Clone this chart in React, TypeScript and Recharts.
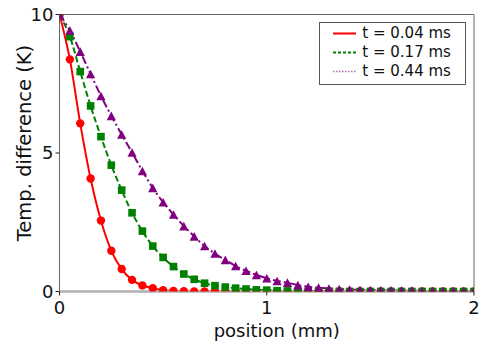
import React from 'react';
import { ComposedChart, Line, XAxis, YAxis, Legend } from 'recharts';

// position along the sample (mm), one marker every 0.05 mm
const positions = [
  0, 0.05, 0.1, 0.15, 0.2, 0.25, 0.3, 0.35, 0.4, 0.45, 0.5, 0.55, 0.6, 0.65, 0.7, 0.75, 0.8, 0.85, 0.9, 0.95,
  1, 1.05, 1.1, 1.15, 1.2, 1.25, 1.3, 1.35, 1.4, 1.45, 1.5, 1.55, 1.6, 1.65, 1.7, 1.75, 1.8, 1.85, 1.9, 1.95, 2,
];

// temperature difference (K) for each time step
const t004 = [
  10, 8.38, 6.07, 4.08, 2.56, 1.47, 0.81, 0.42, 0.22, 0.12, 0.05, 0.02, 0.01, 0, 0, 0, 0, 0, 0, 0,
  0, 0, 0, 0, 0, 0, 0, 0, 0, 0, 0, 0, 0, 0, 0, 0, 0, 0, 0, 0, 0,
];
const t017 = [
  10, 9.2, 7.94, 6.7, 5.59, 4.56, 3.66, 2.84, 2.18, 1.64, 1.23, 0.9, 0.63, 0.44, 0.3, 0.21, 0.16, 0.12, 0.09, 0.06,
  0.05, 0.03, 0.02, 0.02, 0.01, 0, 0, 0, 0, 0, 0, 0, 0, 0, 0, 0, 0, 0, 0, 0, 0,
];
const t044 = [
  10, 9.42, 8.66, 7.85, 7.06, 6.34, 5.67, 5.02, 4.35, 3.74, 3.22, 2.78, 2.36, 1.99, 1.64, 1.37, 1.14, 0.92, 0.75, 0.6,
  0.48, 0.38, 0.32, 0.23, 0.17, 0.14, 0.11, 0.09, 0.07, 0.06, 0.05, 0.04, 0.04, 0.03, 0.03, 0.02, 0.02, 0.01, 0.01, 0.01, 0,
];

const seriesNames = ['t = 0.04 ms', 't = 0.17 ms', 't = 0.44 ms'];
const xTicks = [0, 1, 2];
const yTicks = [0, 5, 10];

const data = positions.map((x, i) => ({ x, a: t004[i], b: t017[i], c: t044[i] }));

const FONT = '"DejaVu Sans", sans-serif';

const CircleDot = (p: any) => <circle cx={p.cx} cy={p.cy} r={4.2} fill="#ff0000" />;
const SquareDot = (p: any) => <rect x={p.cx - 3.8} y={p.cy - 3.8} width={7.6} height={7.6} fill="#008000" />;
const TriangleDot = (p: any) => (
  <polygon
    points={`${p.cx},${p.cy - 4.3} ${p.cx - 4.6},${p.cy + 4.3} ${p.cx + 4.6},${p.cy + 4.3}`}
    fill="#800080"
  />
);

const legendStyles = [
  { stroke: '#ff0000', dash: undefined, width: 2, opacity: 1 },
  { stroke: '#008000', dash: '3 2', width: 2, opacity: 1 },
  { stroke: '#800080', dash: '1.5 1.5', width: 1.5, opacity: 0.6 },
];

const renderLegend = () => (
  <div
    style={{
      width: 147,
      height: 63,
      boxSizing: 'border-box',
      border: '1px solid #555',
      background: '#fff',
      paddingTop: 1,
      fontFamily: FONT,
      fontSize: 15,
      color: '#111',
    }}
  >
    {seriesNames.map((name, i) => (
      <div key={name} style={{ display: 'flex', alignItems: 'center', height: 19, lineHeight: '19px' }}>
        <svg width={23} height={19} style={{ marginLeft: 13, marginRight: 6 }}>
          <line
            x1={0}
            x2={23}
            y1={9.5}
            y2={9.5}
            stroke={legendStyles[i].stroke}
            strokeWidth={legendStyles[i].width}
            strokeDasharray={legendStyles[i].dash}
            strokeOpacity={legendStyles[i].opacity}
          />
        </svg>
        <span>{name}</span>
      </div>
    ))}
  </div>
);

const YTitle = (props: any) => {
  const { viewBox } = props;
  const cx = viewBox.x + 14.5;
  const cy = viewBox.y + viewBox.height / 2 - 10;
  return (
    <text
      x={cx}
      y={cy}
      transform={`rotate(-90 ${cx} ${cy})`}
      textAnchor="middle"
      dominantBaseline="central"
      fontSize={19.5}
      fontFamily={FONT}
      fill="#111"
    >
      Temp. difference (K)
    </text>
  );
};

const XTitle = (props: any) => {
  const { viewBox } = props;
  return (
    <text
      x={viewBox.x + viewBox.width / 2 + 10}
      y={viewBox.y + 38.5}
      textAnchor="middle"
      dominantBaseline="central"
      fontSize={18}
      fontFamily={FONT}
      fill="#111"
    >
      position (mm)
    </text>
  );
};

export default function App() {
  const tickStyle = { fontSize: 18, fill: '#111', fontFamily: FONT };
  return (
    <div style={{ position: 'absolute', left: 0, top: 0, background: '#fff', fontFamily: FONT }}>
      <ComposedChart width={498} height={356} data={data} margin={{ top: 13.5, right: 24, bottom: 24.5, left: 9.5 }}>
        <XAxis
          dataKey="x"
          type="number"
          domain={[0, 2]}
          ticks={xTicks}
          allowDataOverflow
          height={40}
          tick={tickStyle}
          tickSize={4}
          tickMargin={6}
          tickLine={{ stroke: '#222' }}
          axisLine={{ stroke: '#b0b0b0', strokeWidth: 2.5 }}
          label={<XTitle />}
        />
        <XAxis xAxisId="top" dataKey="x" type="number" domain={[0, 2]} orientation="top" height={1} tick={false} tickLine={false} axisLine={{ stroke: '#666' }} />
        <YAxis
          type="number"
          domain={[0, 10]}
          ticks={yTicks}
          allowDataOverflow
          width={50}
          tick={tickStyle}
          tickSize={4}
          tickMargin={2}
          tickLine={{ stroke: '#222' }}
          axisLine={{ stroke: '#666' }}
          label={<YTitle />}
        />
        <YAxis
          yAxisId="right"
          orientation="right"
          type="number"
          domain={[0, 10]}
          ticks={[5.37, 10]}
          width={1}
          mirror
          tick={false}
          tickSize={4}
          tickLine={{ stroke: '#444' }}
          axisLine={{ stroke: '#666' }}
        />
        <Legend layout="vertical" align="center" verticalAlign="middle" content={renderLegend} wrapperStyle={{ top: 21.7, left: 319.3, width: 147 }} />
        <Line
          dataKey="a"
          name={seriesNames[0]}
          type="monotone"
          stroke="#ff0000"
          strokeWidth={2}
          dot={CircleDot}
          activeDot={false}
          isAnimationActive={false}
        />
        <Line
          dataKey="b"
          name={seriesNames[1]}
          type="monotone"
          stroke="#008000"
          strokeWidth={2}
          strokeDasharray="6 3"
          dot={SquareDot}
          activeDot={false}
          isAnimationActive={false}
        />
        <Line
          dataKey="c"
          name={seriesNames[2]}
          type="monotone"
          stroke="#800080"
          strokeWidth={2}
          strokeDasharray="8 3 2 3"
          dot={TriangleDot}
          activeDot={false}
          isAnimationActive={false}
        />
      </ComposedChart>
    </div>
  );
}
